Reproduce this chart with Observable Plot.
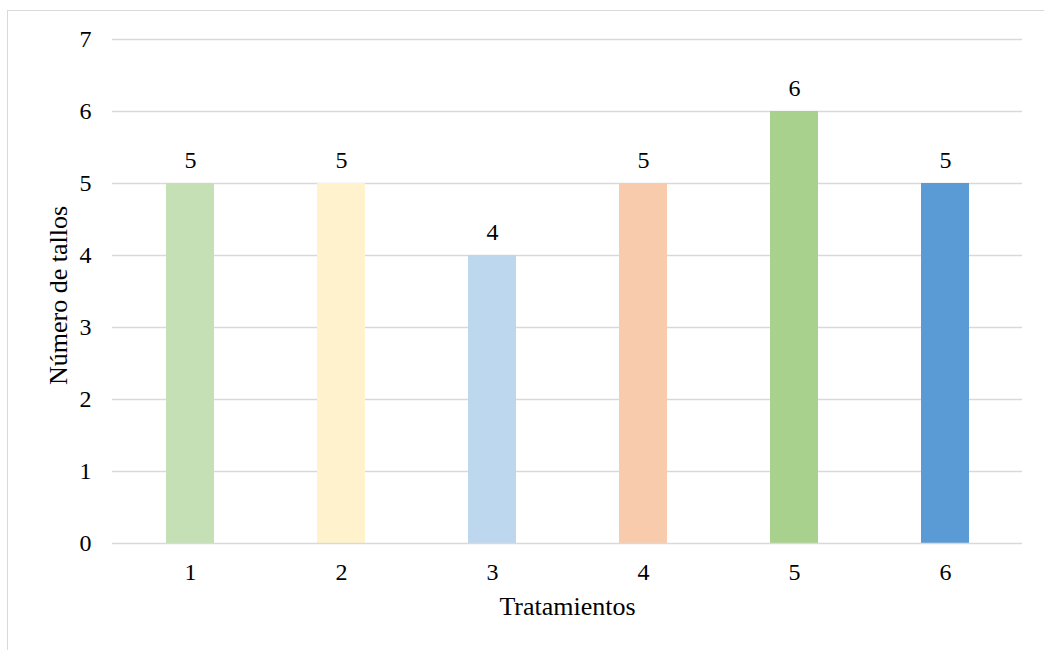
<!DOCTYPE html>
<html>
<head>
<meta charset="utf-8">
<script src="https://cdn.jsdelivr.net/npm/d3@7"></script>
<script src="https://cdn.jsdelivr.net/npm/@observablehq/plot@0.6"></script>
<style>
  body { margin: 0; background: #fff; }
  #wrap { position: relative; width: 1044px; height: 650px; overflow: hidden; }
  #frame { position: absolute; left: 7px; top: 10px; width: 1060px; height: 660px; border: 1.5px solid #d9d9d9; box-sizing: border-box; }
  #chart { position: absolute; left: 0; top: 0; }
  #chart svg, #chart svg text { font-family: "Liberation Serif", "Times New Roman", serif; }
</style>
</head>
<body>
<div id="wrap"><div id="frame"></div><div id="chart"></div></div>
<script>
const tratamientos = ["1", "2", "3", "4", "5", "6"];
const tallos = [5, 5, 4, 5, 6, 5];
const colores = ["#c5e0b4", "#fff2cc", "#bdd7ee", "#f8cbad", "#a9d18e", "#5b9bd5"];
const yTicks = [0, 1, 2, 3, 4, 5, 6, 7];

const data = tratamientos.map((t, i) => ({t, v: tallos[i], c: colores[i]}));
const font = "Liberation Serif";
const fs = 24;
const fsTitle = 26;

const chart = Plot.plot({
  width: 1044,
  height: 650,
  marginLeft: 112,
  marginRight: 22,
  marginTop: 39,
  marginBottom: 107,
  style: {color: "#000", background: "transparent", fontSize: fs + "px"},
  x: {domain: tratamientos, paddingInner: 0.684, paddingOuter: 0.342, label: null},
  y: {domain: [0, 7], label: null},
  marks: [
    Plot.ruleY(yTicks.filter(d => d > 0), {stroke: "#d9d9d9", strokeWidth: 1.3}),
    Plot.barY(data, {x: "t", y: "v", fill: "c"}),
    Plot.ruleY([0], {stroke: "#d9d9d9", strokeWidth: 1.5}),
    Plot.text(data, {x: "t", y: "v", text: d => String(d.v), dy: -23, fontFamily: font, fontSize: fs, fill: "#000"}),
    Plot.axisY({ticks: yTicks, tickFormat: "d", tickSize: 0, tickPadding: 21, label: null, fontFamily: font, fontSize: fs}),
    Plot.axisX({tickSize: 0, tickPadding: 19, label: null, fontFamily: font, fontSize: fs}),
    Plot.text(["Número de tallos"], {frameAnchor: "left", textAnchor: "middle", dx: -54, dy: 4, rotate: -90, fontFamily: font, fontSize: fsTitle, fill: "#000"}),
    Plot.text(["Tratamientos"], {frameAnchor: "bottom", textAnchor: "middle", dy: 71, fontFamily: font, fontSize: fsTitle, fill: "#000"})
  ]
});
document.getElementById("chart").appendChild(chart);
</script>
</body>
</html>
